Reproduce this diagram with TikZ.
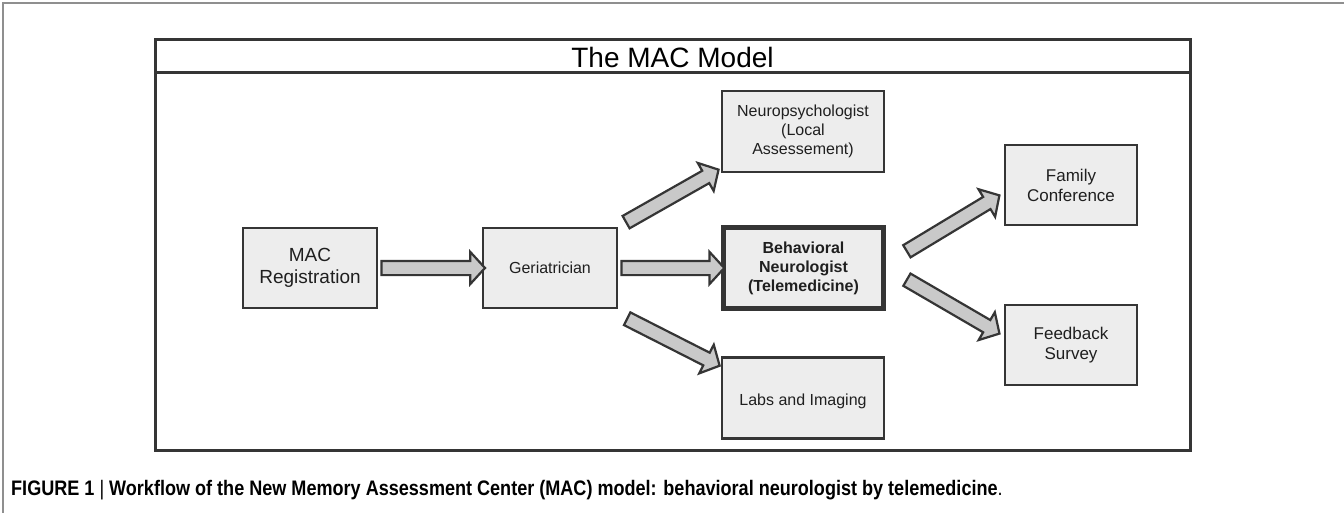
\documentclass[tikz,border=0pt]{standalone}
\usepackage{fontspec}
\setmainfont{Liberation Sans}
\newfontfamily\capfont[FakeStretch=0.86]{Liberation Sans}
\usepackage{xcolor}
\usetikzlibrary{shapes.arrows,calc}

\definecolor{boxgray}{HTML}{EDEDED}
\definecolor{arrowgray}{HTML}{C9C9C9}
\definecolor{edgegray}{HTML}{353535}
\definecolor{framegray}{HTML}{8F8F8F}

\newcommand{\blockarrow}[2]{%
  \path let \p1=($(#2)-(#1)$), \n1={atan2(\y1,\x1)}, \n2={veclen(\x1,\y1)} in
    node[bigarrow, minimum height=\n2, rotate=\n1] at ($(#1)!0.5!(#2)$) {};}

\begin{document}
\begin{tikzpicture}[x=1pt, y=-1pt,
		stepbox/.style={draw=edgegray, line width=2.5pt, fill=boxgray, inner sep=2pt,
			minimum height=80pt, align=center, text=black!88,
			font=\fontsize{16}{19}\selectfont},
		mainbox/.style={stepbox, line width=5pt, font=\fontsize{16}{19}\selectfont\bfseries},
		bigarrow/.style={single arrow, draw=edgegray, line width=2.2pt, fill=arrowgray,
			inner xsep=0pt, inner ysep=6pt, minimum width=0pt,
			single arrow head extend=9pt, single arrow head indent=0pt,
			single arrow tip angle=95}]
		\useasboundingbox (0,0) rectangle (1344,513);
		
		\draw[framegray, line width=1.5pt] (3,513) -- (3,3) -- (1344,3);
		
		\draw[edgegray, line width=3pt] (155,40) rectangle (1190,450);
		\draw[edgegray, line width=3pt] (155,73) -- (1190,73);
		\node (title) at (672.5,57) {\fontsize{28}{32}\selectfont The MAC Model};
		
		\node[stepbox, minimum width=134pt, font=\fontsize{19}{22}\selectfont] (reg) at (310,268) {MAC\\Registration};
		\node[stepbox, minimum width=134pt] (geri) at (550,268) {Geriatrician};
		\node[stepbox, minimum width=162pt, minimum height=81pt] (neuro) at (803,131.5) {Neuropsychologist\\(Local\\Assessement)};
		\node[mainbox, minimum width=160pt, minimum height=81pt] (behav) at (803.5,268) {Behavioral\\Neurologist\\(Telemedicine)};
		\node[stepbox, minimum width=162pt, minimum height=81pt] (labs) at (803,398) {\\Labs and Imaging};
		\node[stepbox, minimum width=132pt, font=\fontsize{17}{20}\selectfont] (family) at (1071,185) {Family\\Conference};
		\node[stepbox, minimum width=132pt, font=\fontsize{17}{20}\selectfont] (survey) at (1071,345) {Feedback\\Survey};
		
		\coordinate (g1) at ($(geri.north east)+(5,-3)$);
		\coordinate (n1) at ($(neuro.south west)+(-5,-2)$);
		\coordinate (g2) at ($(geri.south east)+(6,8)$);
		\coordinate (l1) at ($(labs.north west)+(-4,8)$);
		\coordinate (b1) at ($(behav.north east)+(18,28)$);
		\coordinate (f1) at ($(family.west)+(-7,12)$);
		\coordinate (b2) at ($(behav.south east)+(18,-33)$);
		\coordinate (s1) at ($(survey.west)+(-7,-13)$);
		
		\blockarrow{reg.east}{geri.west}
		\blockarrow{geri.east}{behav.west}
		\blockarrow{g1}{n1}
		\blockarrow{g2}{l1}
		\blockarrow{b1}{f1}
		\blockarrow{b2}{s1}
		
		\node[anchor=west, inner sep=0pt] (caption) at (11,490) {\capfont\fontsize{21}{24}\selectfont
			\textbf{FIGURE 1} \textbar{} \textbf{Workflow of the New Memory Assessment Center (MAC) model: behavioral neurologist by telemedicine}.};
	\end{tikzpicture}
\end{document}
